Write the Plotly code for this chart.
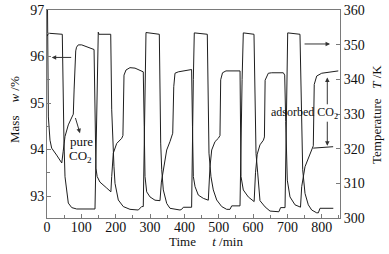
import plotly.graph_objects as go

# ---- data ----
mass_t = [1.5, 4, 8.7, 13.6, 28, 43, 47, 52.4, 62, 71.9, 76.6, 79, 81, 83.6, 86, 91, 101, 116, 137,
          139.5, 142.5, 146, 154, 174, 186, 188.4, 193, 202.9, 217.5, 221, 224.2, 230, 241.6, 256.2, 275.7, 280.3,
          283, 285.3, 290.2, 299.9, 314.4, 329, 333, 338.6, 348.5, 358, 363, 366, 369, 372.6, 382.2, 416.3, 421,
          423.5, 426, 431, 440.5, 455, 469.6, 474.5, 479.5, 489.1, 498.7, 503.6, 505.7, 511, 521, 559, 562,
          564.8, 571.5, 586, 603, 607, 612, 620, 630, 633, 635, 644.3, 654.1, 688, 692,
          695, 699.6, 707.4, 722, 738, 741.5, 751.1, 765.6, 770.6, 775.3, 778, 785.2, 799.7, 823.9, 848]
mass_w = [97.0, 94.7, 94.2, 94.03, 93.88, 93.71, 93.95, 94.28, 94.53, 94.68, 94.76, 95.3, 95.9, 96.12, 96.2, 96.25, 96.25, 96.21, 96.15,
          95.0, 93.6, 93.42, 93.3, 93.17, 93.09, 93.42, 93.92, 94.13, 94.24, 94.3, 95.6, 95.71, 95.76, 95.75, 95.69, 95.67,
          94.5, 93.42, 93.09, 92.98, 92.91, 92.9, 93.3, 93.56, 93.99, 94.17, 94.28, 94.35, 95.35, 95.64, 95.67, 95.7, 95.72,
          94.5, 93.42, 93.2, 93.02, 92.95, 92.91, 93.63, 93.99, 94.17, 94.24, 94.3, 95.5, 95.65, 95.69, 95.69, 95.69,
          93.42, 93.13, 92.98, 92.88, 93.5, 93.9, 94.1, 94.2, 94.27, 95.49, 95.64, 95.65, 95.65, 95.6,
          94.6, 93.34, 92.98, 92.81, 92.76, 93.2, 93.63, 93.92, 94.0, 94.08, 95.4, 95.58, 95.64, 95.67, 95.69]

temp_t = [1, 4, 44.5, 47.5, 49.5, 52.4, 57.4, 62, 72, 86.5, 139.7, 144.7, 149.3, 151, 185.5,
          188.4, 191.3, 195, 198, 207.6, 222, 241.6, 265.8, 270.7, 275.7, 280.3, 286, 288.2, 327,
          329, 331, 334, 338.6, 348.5, 358, 387.2, 392.1, 396.8, 421, 426, 428.8, 466.7,
          469.6, 471.6, 477.4, 484.1, 494, 508.6, 523.1, 532.8, 537.7, 561.9, 568, 571.5, 602.6,
          605.5, 608.5, 613.4, 620, 634.9, 649.3, 675, 680, 693, 698, 700.7, 736.5,
          741.5, 744.4, 751.1, 760.7, 770.6, 785.1, 790, 794.8, 833.5]
temp_K = [352.5, 353.3, 353.0, 329.7, 321.6, 311.9, 307.2, 304.3, 303.0, 302.6, 302.6, 335, 353.6, 353.0, 353.0,
          331.2, 321.6, 314.8, 310.0, 305.2, 303.3, 302.5, 302.3, 302.8, 303.3, 303.3, 340, 353.5, 353.0,
          331.2, 321.6, 313.9, 308.1, 304.2, 302.8, 302.3, 302.5, 303.1, 303.1, 340, 353.4, 353.0,
          331.2, 318.7, 311.9, 308.1, 305.2, 303.3, 302.5, 302.5, 303.5, 303.5, 340, 353.4, 353.0,
          331.0, 318.6, 313.0, 305.0, 303.2, 302.0, 301.8, 303.0, 303.0, 340, 353.4, 353.0,
          328.4, 313.9, 307.1, 303.8, 302.3, 301.5, 301.5, 302.8, 302.8]

x_ticks = [0, 100, 200, 300, 400, 500, 600, 700, 800]
w_ticks = [93, 94, 95, 96, 97]
T_ticks = [300, 310, 320, 330, 340, 350, 360]

FONT = "Liberation Serif"
AX = "#7a7a7a"
LC = "#1e1e1e"

# plot area in pixels
L, R, TOP, BOT = 47, 340, 10, 218


def px(x, y):
    return (x - L) / (R - L), (BOT - y) / (BOT - TOP)


fig = go.Figure()
fig.add_trace(go.Scatter(x=mass_t, y=mass_w, mode="lines", line=dict(color=LC, width=1), yaxis="y"))
fig.add_trace(go.Scatter(x=temp_t, y=temp_K, mode="lines", line=dict(color=LC, width=1), yaxis="y2"))

axcommon = dict(showline=True, linecolor=AX, linewidth=1, ticks="inside", ticklen=4, tickcolor=AX,
                showgrid=False, zeroline=False, automargin=False,
                tickfont=dict(family=FONT, size=14, color="#111"))

fig.update_layout(
    width=389, height=254,
    margin=dict(l=L, r=389 - R, t=TOP, b=254 - BOT, autoexpand=False),
    paper_bgcolor="white", plot_bgcolor="white",
    showlegend=False,
    font=dict(family=FONT, size=13, color="#111"),
    xaxis=dict(range=[0, 853], tickvals=x_ticks, mirror=True, ticklabelstandoff=-4,
               minor=dict(dtick=50, ticks="inside", ticklen=3, tickcolor=AX), **axcommon),
    yaxis=dict(range=[92.527, 97], tickvals=w_ticks, ticklabelstandoff=-1,
               minor=dict(dtick=0.5, ticks="inside", ticklen=3, tickcolor=AX), **axcommon),
    yaxis2=dict(range=[300, 360], tickvals=T_ticks, overlaying="y", side="right", anchor="x", **axcommon),
)

nb = "\u00a0"
ann = []


def txt(text, x, y, size=13, angle=0):
    ax_, ay_ = px(x, y)
    ann.append(dict(text=text, x=ax_, y=ay_, xref="paper", yref="paper", textangle=angle,
                    showarrow=False, xanchor="center", yanchor="middle",
                    font=dict(size=size, family=FONT, color="#111")))


txt(f"Mass{nb*4}<i>w</i>{nb}/%", 15, 110, angle=-90)
txt(f"Temperature{nb*3}<i>T</i>{nb}/K", 376, 115, angle=-90)
txt(f"Time{nb*5}<i>t</i>{nb}/min", 206, 241)
txt("pure", 81, 141)
txt("CO<sub>2</sub>", 80.5, 156)
txt("adsorbed CO<sub>2</sub>", 304, 113, size=12)

arrow = dict(text="", showarrow=True, arrowhead=2, arrowsize=0.9, arrowwidth=1, arrowcolor="#333",
             axref="x", xref="x")
ann += [
    dict(x=13.7, y=95.98, ax=74.8, ay=95.98, yref="y", ayref="y", **arrow),
    dict(x=96, y=94.35, ax=81.5, ay=94.71, yref="y", ayref="y", **arrow),
    dict(x=824, y=350.2, ax=745.5, ay=350.2, yref="y2", ayref="y2", **arrow),
    dict(x=816, y=95.55, ax=816, ay=94.94, yref="y", ayref="y", **arrow),
    dict(x=816, y=94.08, ax=816, ay=94.63, yref="y", ayref="y", **arrow),
]
fig.update_layout(annotations=ann)
fig.add_shape(type="line", x0=775, x1=833, y0=94.03, y1=94.06, xref="x", yref="y",
              line=dict(color=LC, width=1))

fig.write_html("out.html", config={"displayModeBar": False},
               post_script="document.body.style.margin='0px';document.body.style.overflow='hidden';")
